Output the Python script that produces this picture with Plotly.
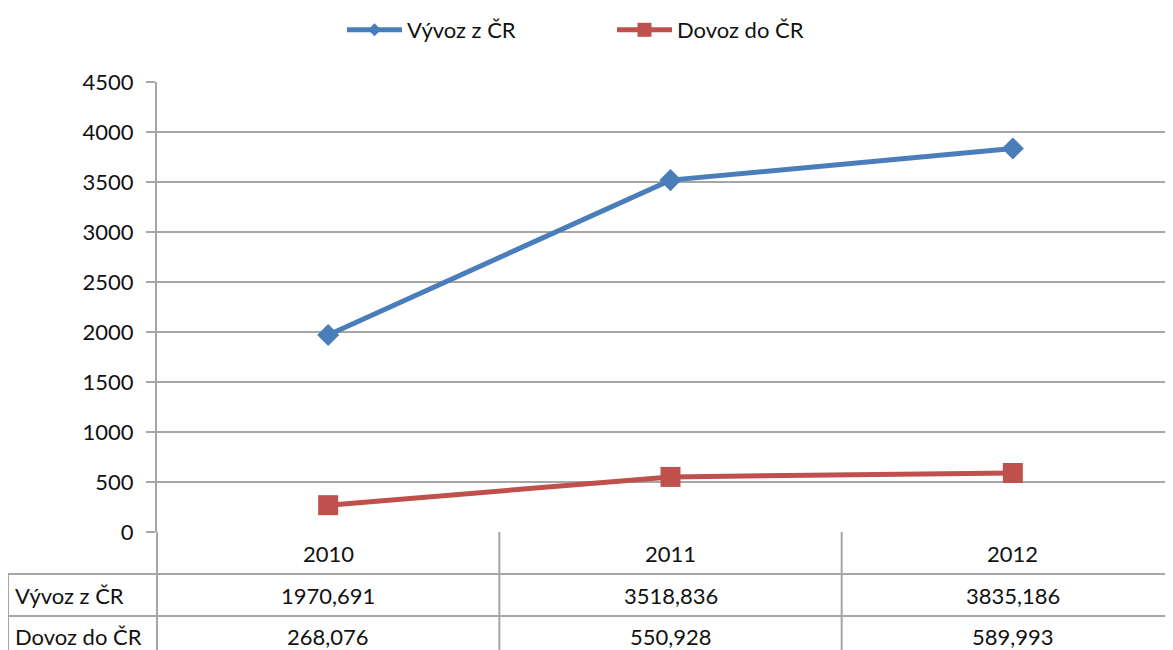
import plotly.graph_objects as go

years = ["2010", "2011", "2012"]
series_names = ["Vývoz z ČR", "Dovoz do ČR"]
vyvoz = [1970.691, 3518.836, 3835.186]
dovoz = [268.076, 550.928, 589.993]
y_ticks = [0, 500, 1000, 1500, 2000, 2500, 3000, 3500, 4000, 4500]

BLUE = "#4A7EBB"
RED = "#C0504D"
GRID = "#A6A6A6"
TXT = "#111111"
FONT = "Lato"
FS = 22

OFF = 8  # page body margin
W, H = 1173 - OFF, 650 - OFF
PLOT_LEFT, PLOT_TOP, PLOT_BOTTOM = 157, 82, 532   # page pixels
L = PLOT_LEFT - OFF
T = PLOT_TOP - OFF
B = H - (PLOT_BOTTOM - OFF)
R = 0
plot_h = PLOT_BOTTOM - PLOT_TOP
plot_w = W - L - R

xs = list(range(len(years)))
x_lo = -0.5
x_hi = 2.5 - 11 / 342.3

def py(p):  # page pixel y -> paper y
    return (PLOT_BOTTOM - p) / plot_h

def px(p):  # page pixel x -> paper x
    return (p - PLOT_LEFT) / plot_w

fig = go.Figure()
for name, vals, col, sym, msize, lsize in [
    (series_names[0], vyvoz, BLUE, "diamond", 17, 10),
    (series_names[1], dovoz, RED, "square", 20, 14),
]:
    fig.add_trace(go.Scatter(x=xs, y=vals, mode="lines+markers", name=name,
                             line=dict(color=col, width=5),
                             marker=dict(symbol=sym, size=msize, color=col),
                             showlegend=False, hoverinfo="skip"))
    fig.add_trace(go.Scatter(x=[None], y=[None], mode="lines+markers", name=name,
                             line=dict(color=col, width=5),
                             marker=dict(symbol=sym, size=lsize, color=col),
                             showlegend=True))

shapes = []
annotations = []
line_style = dict(color=GRID, width=2)
bottom = py(660)
shapes.append(dict(type="line", xref="paper", yref="paper", x0=0, x1=0,
                   y0=0, y1=bottom, line=line_style))
for b in [0.5, 1.5]:
    shapes.append(dict(type="line", xref="x", yref="paper", x0=b, x1=b,
                       y0=0, y1=bottom, line=line_style))
shapes.append(dict(type="line", xref="paper", yref="paper", x0=px(8), x1=px(8),
                   y0=py(574), y1=bottom, line=line_style))
for yy in [574, 616]:
    shapes.append(dict(type="line", xref="paper", yref="paper", x0=px(8), x1=1,
                       y0=py(yy), y1=py(yy), line=line_style))

def fmt(v):
    return f"{v:.3f}".replace(".", ",")

for i, yr in enumerate(years):
    annotations.append(dict(x=i, y=py(553), xref="x", yref="paper", text=yr,
                            showarrow=False, font=dict(family=FONT, size=FS, color=TXT),
                            xanchor="center", yanchor="middle"))
for row_y, name, vals in [(595, series_names[0], vyvoz), (636, series_names[1], dovoz)]:
    annotations.append(dict(x=px(13), y=py(row_y), xref="paper", yref="paper", text=name,
                            showarrow=False, font=dict(family=FONT, size=FS, color=TXT),
                            xanchor="left", yanchor="middle"))
    for i, v in enumerate(vals):
        annotations.append(dict(x=i, y=py(row_y), xref="x", yref="paper", text=fmt(v),
                                showarrow=False, font=dict(family=FONT, size=FS, color=TXT),
                                xanchor="center", yanchor="middle"))

fig.update_layout(
    width=W, height=H,
    margin=dict(l=L, r=R, t=T, b=B),
    paper_bgcolor="white", plot_bgcolor="white",
    font=dict(family=FONT, size=FS, color=TXT),
    showlegend=True,
    legend=dict(orientation="h", xref="container", yref="container",
                x=(343 - 9) / W, y=1 - 1 / H, xanchor="left", yanchor="top",
                itemwidth=55, entrywidth=200, entrywidthmode="pixels",
                font=dict(family=FONT, size=FS, color=TXT), bgcolor="rgba(0,0,0,0)"),
    xaxis=dict(range=[x_lo, x_hi], showticklabels=False, showgrid=False,
               zeroline=False, showline=False, ticks=""),
    yaxis=dict(range=[0, 4500], tickvals=y_ticks, showgrid=True, gridcolor=GRID, gridwidth=2,
               zeroline=False, showline=True, linecolor=GRID, linewidth=2,
               ticks="outside", ticklen=9, tickcolor=GRID, tickwidth=2,
               tickfont=dict(family=FONT, size=FS, color=TXT), ticklabelstandoff=8),
    shapes=shapes, annotations=annotations,
)

fig.write_html("out.html")
